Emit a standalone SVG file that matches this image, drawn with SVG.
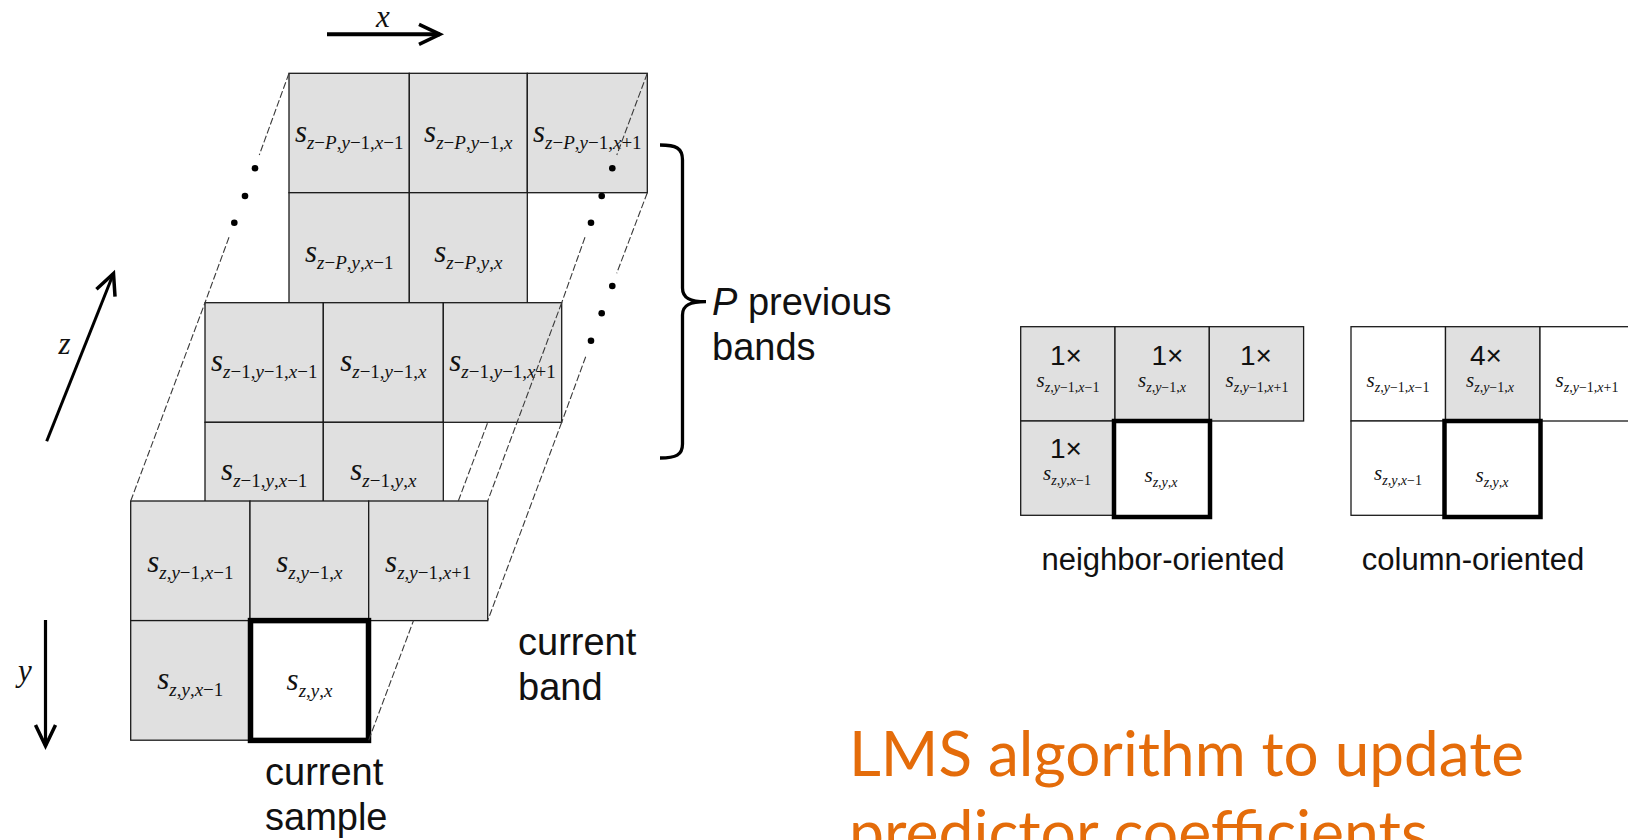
<svg xmlns="http://www.w3.org/2000/svg" width="1628" height="840" viewBox="0 0 1628 840">
  <defs>
    <style>
      .cell { fill: #e0e0e0; stroke: #1a1a1a; stroke-width: 1.3; }
      .cellw { fill: #ffffff; stroke: #1a1a1a; stroke-width: 1.3; }
      .cur { fill: #ffffff; stroke: #000000; stroke-width: 5.5; }
      .cur2 { fill: #ffffff; stroke: #000000; stroke-width: 4.5; }
      .cl { font-family: "Liberation Serif", "Times New Roman", serif; text-anchor: middle; fill: #111111; }
      .s { font-style: italic; font-size: 31px; }
      .sub { font-size: 19px; }
      .s2 { font-style: italic; font-size: 21px; }
      .sub2 { font-size: 14px; }
      .i { font-style: italic; }
      .mult { font-family: "Liberation Sans", Arial, sans-serif; font-size: 28px; text-anchor: middle; fill: #111111; }
      .axis { font-family: "Liberation Serif", "Times New Roman", serif; font-style: italic; font-size: 31px; text-anchor: middle; fill: #111111; }
      .lbl { font-family: "Liberation Sans", Arial, sans-serif; font-size: 38px; fill: #111111; }
      .cap { font-family: "Liberation Sans", Arial, sans-serif; font-size: 31px; text-anchor: middle; fill: #111111; }
      .lms { font-family: Lato, "Open Sans", sans-serif; font-size: 61px; fill: #e46c0a; }
      .conn { fill: none; stroke: #3a3a3a; stroke-width: 1.1; stroke-dasharray: 7 2.5; }
      .dot { fill: #000000; }
      .arrow { fill: none; stroke: #000000; marker-end: url(#head); }
    </style>
    <marker id="head" markerUnits="userSpaceOnUse" markerWidth="34" markerHeight="30" viewBox="-26 -15 34 30" refX="0" refY="0" orient="auto">
      <path d="M-21,-10 L0,0 L-21,10" fill="none" stroke="#000" stroke-width="3.5"/>
    </marker>
  </defs>

  <rect width="1628" height="840" fill="#ffffff"/>

  <!-- axis arrows -->
  <g id="axis-x">
    <line class="arrow" x1="327" y1="34.3" x2="440" y2="34.3" stroke-width="4"/>
    <text class="axis" x="383" y="27">x</text>
  </g>
  <g id="axis-z">
    <line class="arrow" x1="46.7" y1="441.3" x2="113.5" y2="273.5" stroke-width="3"/>
    <text class="axis" x="64.5" y="354">z</text>
  </g>
  <g id="axis-y">
    <line class="arrow" x1="45.5" y1="620" x2="45.5" y2="746" stroke-width="3.2"/>
    <text class="axis" x="25" y="681">y</text>
  </g>

  <!-- band z-P -->
  <g id="band-zP">
    <g id="zP-y1-x1">
      <rect class="cell" x="289" y="73.3" width="120.3" height="119.4"/>
      <text class="cl" x="349.2" y="142"><tspan class="s">s</tspan><tspan class="sub" dy="7"><tspan class="i">z</tspan>−<tspan class="i">P</tspan>,<tspan class="i">y</tspan>−1,<tspan class="i">x</tspan>−1</tspan></text>
    </g>
    <g id="zP-y1-x">
      <rect class="cell" x="409.3" y="73.3" width="118" height="119.4"/>
      <text class="cl" x="468.3" y="142"><tspan class="s">s</tspan><tspan class="sub" dy="7"><tspan class="i">z</tspan>−<tspan class="i">P</tspan>,<tspan class="i">y</tspan>−1,<tspan class="i">x</tspan></tspan></text>
    </g>
    <g id="zP-y1-xp1">
      <rect class="cell" x="527.3" y="73.3" width="120" height="119.4"/>
      <text class="cl" x="587.3" y="142"><tspan class="s">s</tspan><tspan class="sub" dy="7"><tspan class="i">z</tspan>−<tspan class="i">P</tspan>,<tspan class="i">y</tspan>−1,<tspan class="i">x</tspan>+1</tspan></text>
    </g>
    <g id="zP-y-x1">
      <rect class="cell" x="289" y="192.7" width="120.3" height="119.4"/>
      <text class="cl" x="349.2" y="262"><tspan class="s">s</tspan><tspan class="sub" dy="7"><tspan class="i">z</tspan>−<tspan class="i">P</tspan>,<tspan class="i">y</tspan>,<tspan class="i">x</tspan>−1</tspan></text>
    </g>
    <g id="zP-y-x">
      <rect class="cell" x="409.3" y="192.7" width="118" height="119.4"/>
      <text class="cl" x="468.3" y="262"><tspan class="s">s</tspan><tspan class="sub" dy="7"><tspan class="i">z</tspan>−<tspan class="i">P</tspan>,<tspan class="i">y</tspan>,<tspan class="i">x</tspan></tspan></text>
    </g>
  </g>

  <!-- band z-1 -->
  <g id="band-z1">
    <g id="z1-y1-x1">
      <rect class="cell" x="205" y="302.7" width="118.3" height="119.6"/>
      <text class="cl" x="264.2" y="371"><tspan class="s">s</tspan><tspan class="sub" dy="7"><tspan class="i">z</tspan>−1,<tspan class="i">y</tspan>−1,<tspan class="i">x</tspan>−1</tspan></text>
    </g>
    <g id="z1-y1-x">
      <rect class="cell" x="323.3" y="302.7" width="120" height="119.6"/>
      <text class="cl" x="383.3" y="371"><tspan class="s">s</tspan><tspan class="sub" dy="7"><tspan class="i">z</tspan>−1,<tspan class="i">y</tspan>−1,<tspan class="i">x</tspan></tspan></text>
    </g>
    <g id="z1-y1-xp1">
      <rect class="cell" x="443.3" y="302.7" width="118.4" height="119.6"/>
      <text class="cl" x="502.5" y="371"><tspan class="s">s</tspan><tspan class="sub" dy="7"><tspan class="i">z</tspan>−1,<tspan class="i">y</tspan>−1,<tspan class="i">x</tspan>+1</tspan></text>
    </g>
    <g id="z1-y-x1">
      <rect class="cell" x="205" y="422.3" width="118.3" height="119.6"/>
      <text class="cl" x="264.2" y="480"><tspan class="s">s</tspan><tspan class="sub" dy="7"><tspan class="i">z</tspan>−1,<tspan class="i">y</tspan>,<tspan class="i">x</tspan>−1</tspan></text>
    </g>
    <g id="z1-y-x">
      <rect class="cell" x="323.3" y="422.3" width="120" height="119.6"/>
      <text class="cl" x="383.3" y="480"><tspan class="s">s</tspan><tspan class="sub" dy="7"><tspan class="i">z</tspan>−1,<tspan class="i">y</tspan>,<tspan class="i">x</tspan></tspan></text>
    </g>
  </g>

  <!-- current band z -->
  <g id="band-z">
    <g id="z-y1-x1">
      <rect class="cell" x="130.7" y="501" width="119.3" height="119.6"/>
      <text class="cl" x="190.3" y="572"><tspan class="s">s</tspan><tspan class="sub" dy="7"><tspan class="i">z</tspan>,<tspan class="i">y</tspan>−1,<tspan class="i">x</tspan>−1</tspan></text>
    </g>
    <g id="z-y1-x">
      <rect class="cell" x="250" y="501" width="118.7" height="119.6"/>
      <text class="cl" x="309.3" y="572"><tspan class="s">s</tspan><tspan class="sub" dy="7"><tspan class="i">z</tspan>,<tspan class="i">y</tspan>−1,<tspan class="i">x</tspan></tspan></text>
    </g>
    <g id="z-y1-xp1">
      <rect class="cell" x="368.7" y="501" width="119" height="119.6"/>
      <text class="cl" x="428.2" y="572"><tspan class="s">s</tspan><tspan class="sub" dy="7"><tspan class="i">z</tspan>,<tspan class="i">y</tspan>−1,<tspan class="i">x</tspan>+1</tspan></text>
    </g>
    <g id="z-y-x1">
      <rect class="cell" x="130.7" y="620.6" width="119.3" height="119.6"/>
      <text class="cl" x="190.3" y="689"><tspan class="s">s</tspan><tspan class="sub" dy="7"><tspan class="i">z</tspan>,<tspan class="i">y</tspan>,<tspan class="i">x</tspan>−1</tspan></text>
    </g>
    <g id="z-y-x">
      <rect class="cur" x="250.5" y="620.6" width="118" height="119.8"/>
      <text class="cl" x="309.5" y="690"><tspan class="s">s</tspan><tspan class="sub" dy="7"><tspan class="i">z</tspan>,<tspan class="i">y</tspan>,<tspan class="i">x</tspan></tspan></text>
    </g>
  </g>

  <!-- corner connectors between bands, with ellipsis dots -->
  <g id="connectors">
    <line class="conn" x1="130.7" y1="501" x2="205" y2="302.7"/>
    <line class="conn" x1="289" y1="73.3" x2="259.3" y2="155"/>
    <line class="conn" x1="229" y1="237.3" x2="205" y2="302.7"/>
    <line class="conn" x1="647.3" y1="73.3" x2="616.8" y2="155"/>
    <line class="conn" x1="585" y1="237.3" x2="561.7" y2="302.7"/>
    <line class="conn" x1="561.7" y1="302.7" x2="487.7" y2="501"/>
    <line class="conn" x1="647.3" y1="192.7" x2="616.7" y2="273.3"/>
    <line class="conn" x1="585.7" y1="356.7" x2="561.7" y2="422.3"/>
    <line class="conn" x1="561.7" y1="422.3" x2="487.7" y2="620.6"/>
    <line class="conn" x1="368.7" y1="740.2" x2="413.5" y2="620.6"/>
    <line class="conn" x1="458.3" y1="501" x2="487.8" y2="422.3"/>
    <circle class="dot" cx="255" cy="168.3" r="3.3"/>
    <circle class="dot" cx="245" cy="196" r="3.3"/>
    <circle class="dot" cx="234.3" cy="222.7" r="3.3"/>
    <circle class="dot" cx="612.3" cy="168.3" r="3.3"/>
    <circle class="dot" cx="601.7" cy="196" r="3.3"/>
    <circle class="dot" cx="591" cy="222.7" r="3.3"/>
    <circle class="dot" cx="612.3" cy="286" r="3.3"/>
    <circle class="dot" cx="601.7" cy="313.3" r="3.3"/>
    <circle class="dot" cx="591" cy="340.7" r="3.3"/>
  </g>

  <!-- brace and labels -->
  <g id="brace">
    <path d="M660,145 C676,145 682.5,148 682.5,160 L682.5,288 C682.5,298 690,301.7 706,301.7 C690,301.7 682.5,305 682.5,315 L682.5,444 C682.5,455 676,458 660,458" fill="none" stroke="#000" stroke-width="3.3"/>
    <text class="lbl" x="712" y="315"><tspan font-style="italic">P</tspan> previous</text>
    <text class="lbl" x="712" y="360">bands</text>
  </g>
  <g id="label-current-band">
    <text class="lbl" x="518" y="655">current</text>
    <text class="lbl" x="518" y="700">band</text>
  </g>
  <g id="label-current-sample">
    <text class="lbl" x="265" y="785">current</text>
    <text class="lbl" x="265" y="830">sample</text>
  </g>

  <!-- neighbor-oriented weights -->
  <g id="neighbor-oriented">
    <g id="n-y1-x1">
      <rect class="cell" x="1020.7" y="326.7" width="94.3" height="94.3"/>
      <text class="mult" x="1066" y="365">1×</text>
      <text class="cl" x="1068" y="387"><tspan class="s2">s</tspan><tspan class="sub2" dy="5"><tspan class="i">z</tspan>,<tspan class="i">y</tspan>−1,<tspan class="i">x</tspan>−1</tspan></text>
    </g>
    <g id="n-y1-x">
      <rect class="cell" x="1115" y="326.7" width="94.3" height="94.3"/>
      <text class="mult" x="1167.5" y="365">1×</text>
      <text class="cl" x="1162" y="387"><tspan class="s2">s</tspan><tspan class="sub2" dy="5"><tspan class="i">z</tspan>,<tspan class="i">y</tspan>−1,<tspan class="i">x</tspan></tspan></text>
    </g>
    <g id="n-y1-xp1">
      <rect class="cell" x="1209.3" y="326.7" width="94.3" height="94.3"/>
      <text class="mult" x="1256" y="365">1×</text>
      <text class="cl" x="1257" y="387"><tspan class="s2">s</tspan><tspan class="sub2" dy="5"><tspan class="i">z</tspan>,<tspan class="i">y</tspan>−1,<tspan class="i">x</tspan>+1</tspan></text>
    </g>
    <g id="n-y-x1">
      <rect class="cell" x="1020.7" y="421" width="94.3" height="94.3"/>
      <text class="mult" x="1066" y="458">1×</text>
      <text class="cl" x="1067" y="480"><tspan class="s2">s</tspan><tspan class="sub2" dy="5"><tspan class="i">z</tspan>,<tspan class="i">y</tspan>,<tspan class="i">x</tspan>−1</tspan></text>
    </g>
    <g id="n-y-x">
      <rect class="cur2" x="1114" y="421" width="96" height="96"/>
      <text class="cl" x="1161" y="482"><tspan class="s2">s</tspan><tspan class="sub2" dy="5"><tspan class="i">z</tspan>,<tspan class="i">y</tspan>,<tspan class="i">x</tspan></tspan></text>
    </g>
    <text class="cap" x="1163" y="570">neighbor-oriented</text>
  </g>

  <!-- column-oriented weights -->
  <g id="column-oriented">
    <g id="c-y1-x1">
      <rect class="cellw" x="1351" y="326.7" width="94.5" height="94.3"/>
      <text class="cl" x="1398" y="387"><tspan class="s2">s</tspan><tspan class="sub2" dy="5"><tspan class="i">z</tspan>,<tspan class="i">y</tspan>−1,<tspan class="i">x</tspan>−1</tspan></text>
    </g>
    <g id="c-y1-x">
      <rect class="cell" x="1445.5" y="326.7" width="94.5" height="94.3"/>
      <text class="mult" x="1486" y="365">4×</text>
      <text class="cl" x="1490" y="387"><tspan class="s2">s</tspan><tspan class="sub2" dy="5"><tspan class="i">z</tspan>,<tspan class="i">y</tspan>−1,<tspan class="i">x</tspan></tspan></text>
    </g>
    <g id="c-y1-xp1">
      <rect class="cellw" x="1540" y="326.7" width="94.5" height="94.3"/>
      <text class="cl" x="1587" y="387"><tspan class="s2">s</tspan><tspan class="sub2" dy="5"><tspan class="i">z</tspan>,<tspan class="i">y</tspan>−1,<tspan class="i">x</tspan>+1</tspan></text>
    </g>
    <g id="c-y-x1">
      <rect class="cellw" x="1351" y="421" width="94.5" height="94.3"/>
      <text class="cl" x="1398" y="480"><tspan class="s2">s</tspan><tspan class="sub2" dy="5"><tspan class="i">z</tspan>,<tspan class="i">y</tspan>,<tspan class="i">x</tspan>−1</tspan></text>
    </g>
    <g id="c-y-x">
      <rect class="cur2" x="1444.5" y="421" width="96" height="96"/>
      <text class="cl" x="1492" y="482"><tspan class="s2">s</tspan><tspan class="sub2" dy="5"><tspan class="i">z</tspan>,<tspan class="i">y</tspan>,<tspan class="i">x</tspan></tspan></text>
    </g>
    <text class="cap" x="1473" y="570">column-oriented</text>
  </g>

  <!-- slide caption -->
  <g id="caption">
    <text class="lms" x="849" y="776" textLength="675" lengthAdjust="spacingAndGlyphs">LMS algorithm to update</text>
    <text class="lms" x="849" y="855" textLength="579" lengthAdjust="spacingAndGlyphs">predictor coefficients</text>
  </g>
</svg>
